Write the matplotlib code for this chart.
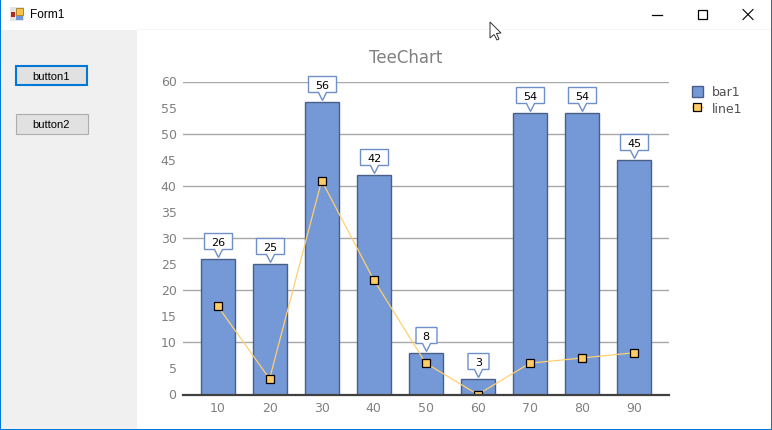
import matplotlib
matplotlib.use("Agg")
import matplotlib.pyplot as plt
from matplotlib.patches import Rectangle, Polygon, Patch
from matplotlib.lines import Line2D
from matplotlib.transforms import Affine2D, ScaledTranslation

plt.rcParams['font.family'] = ['DejaVu Sans']

categories = [10, 20, 30, 40, 50, 60, 70, 80, 90]
bar1 = [26, 25, 56, 42, 8, 3, 54, 54, 45]
line1 = [17, 3, 41, 22, 6, 0, 6, 7, 8]
y_ticks = list(range(0, 65, 5))
title = "TeeChart"

W, H = 772, 431
fig = plt.figure(figsize=(W / 100, H / 100), dpi=100, facecolor="white")

# Window chrome, in pixel coordinates
bg = fig.add_axes([0, 0, 1, 1], zorder=0)
bg.set_xlim(0, W)
bg.set_ylim(H, 0)
bg.axis("off")
BLUE = "#0078d7"


def rect(x, y, w, h, fc="none", ec="none", lw=0.0, z=1):
    bg.add_patch(Rectangle((x, y), w, h, fc=fc, ec=ec, lw=lw, zorder=z))


rect(1, 31, 136, 399, fc="#f0f0f0")
rect(137, 30, 634, 1, fc="#f6f6f6")
rect(0, 0, W, 1, fc=BLUE, z=5)
rect(0, H - 1, W, 1, fc=BLUE, z=5)
rect(0, 0, 1, H, fc=BLUE, z=5)
rect(W - 1, 0, 1, H, fc=BLUE, z=5)

# Window icon
rect(10, 8, 14, 14, fc="#e4e4e4")
rect(16, 9, 7, 7, fc="#f6c344", ec="#a07a20", lw=0.6, z=2)
rect(11, 13, 4, 5, fc="#b02a20", z=2)
rect(16, 17, 7, 4, fc="#6f97d8", z=2)
bg.text(30, 15.5, "Form1", fontsize=8.6, color="black", va="center", ha="left", family="Liberation Sans")

# Window buttons
bg.plot([652, 662], [15.5, 15.5], color="black", lw=0.9, zorder=2)
rect(697.5, 10.5, 9, 9, ec="black", lw=0.9, z=2)
bg.plot([743, 753], [10.5, 20.5], color="black", lw=0.8, zorder=2)
bg.plot([743, 753], [20.5, 10.5], color="black", lw=0.8, zorder=2)

# Form buttons
rect(16, 67, 71, 19, fc="#e1e1e1", ec=BLUE, lw=1.5, z=2)
rect(15.5, 114.5, 72, 20, fc="#e1e1e1", ec="#adadad", lw=0.8, z=2)
bg.text(51, 77, "button1", fontsize=8, ha="center", va="center", color="black", zorder=3, family="Liberation Sans")
bg.text(51, 125, "button2", fontsize=8, ha="center", va="center", color="black", zorder=3, family="Liberation Sans")

# Mouse cursor
bg.add_patch(Polygon([(490, 23), (490, 39), (494, 35.5), (497, 41), (499, 40), (496.5, 34.5), (501, 34)],
                     closed=True, fc="white", ec="#303030", lw=0.7, zorder=6))

# Main chart
L, R, T, B = 183, 669, 82.5, 395.5
ax = fig.add_axes([L / W, 1 - B / H, (R - L) / W, (B - T) / H], zorder=2)
ax.patch.set_alpha(0)
ax.set_xlim(10 - 34.5 / 5.2, 90 + 35 / 5.2)
ax.set_ylim(0, 60)
for s in ["top", "right", "left"]:
    ax.spines[s].set_visible(False)
ax.spines["bottom"].set_linewidth(1.6)
ax.spines["bottom"].set_color("#404040")
ax.spines["bottom"].set_zorder(6)
ax.set_xticks(categories)
ax.set_yticks(y_ticks)
ax.tick_params(axis="both", length=0, labelsize=9, labelcolor="#808080", pad=5)
ax.tick_params(axis="x", pad=5)
up = ScaledTranslation(0.5 / 100, 1 / 100, fig.dpi_scale_trans)
for lab in ax.get_yticklabels():
    lab.set_transform(lab.get_transform() + up)
for v in y_ticks:
    if v % 10 == 0 and v > 0:
        ax.axhline(v, color="#a8a8a8", lw=1.0, zorder=1)

bars = ax.bar(categories, bar1, width=34 / 5.2, color="#7598d6", edgecolor="#4a5f88", linewidth=1.0, zorder=2)
ax.plot(categories, line1, color="#ffd070", lw=0.9, marker="s", markersize=6.4, markerfacecolor="#ffcc66",
        markeredgecolor="black", markeredgewidth=0.9, zorder=3, clip_on=True)

fig.text(405.5 / W, 1 - 58 / H, title, fontsize=12, color="#808080", ha="center", va="center")

# Value callouts, anchored on the bar tops
fig.canvas.draw()
for x, v in zip(categories, bar1):
    px, py = ax.transData.transform((x, v))
    hw = 14 if v >= 10 else 10.5
    outline = [(-hw, 9), (-4, 9), (0, 1), (4, 9), (hw, 9), (hw, 25), (-hw, 25)]
    tr = Affine2D().translate(round(px) + 0.5, round(py) + 0.5)
    fig.add_artist(Polygon(outline, closed=True, fc="white", ec="#6f8fc8", lw=1.0, transform=tr, zorder=5))
    fig.text((px + 0.5) / W, (py + 17) / H, str(v), fontsize=8, color="black", ha="center", va="center", zorder=6)

handles = [Patch(fc="#7598d6", ec="#4a5f88", lw=1.0, label="bar1"),
           Line2D([], [], color="#ffd070", lw=0.9, marker="s", markersize=6.4, markerfacecolor="#ffcc66",
                  markeredgecolor="black", markeredgewidth=0.9, label="line1")]
fig.legend(handles=handles, loc="upper left", bbox_to_anchor=(692 / W, 1 - 86.5 / H), frameon=False,
           fontsize=9, labelcolor="#505050", handlelength=0.85, handleheight=1.0, handletextpad=0.75,
           labelspacing=0.28, borderpad=0, borderaxespad=0)

fig.savefig("out.png", dpi=100, facecolor="white")
